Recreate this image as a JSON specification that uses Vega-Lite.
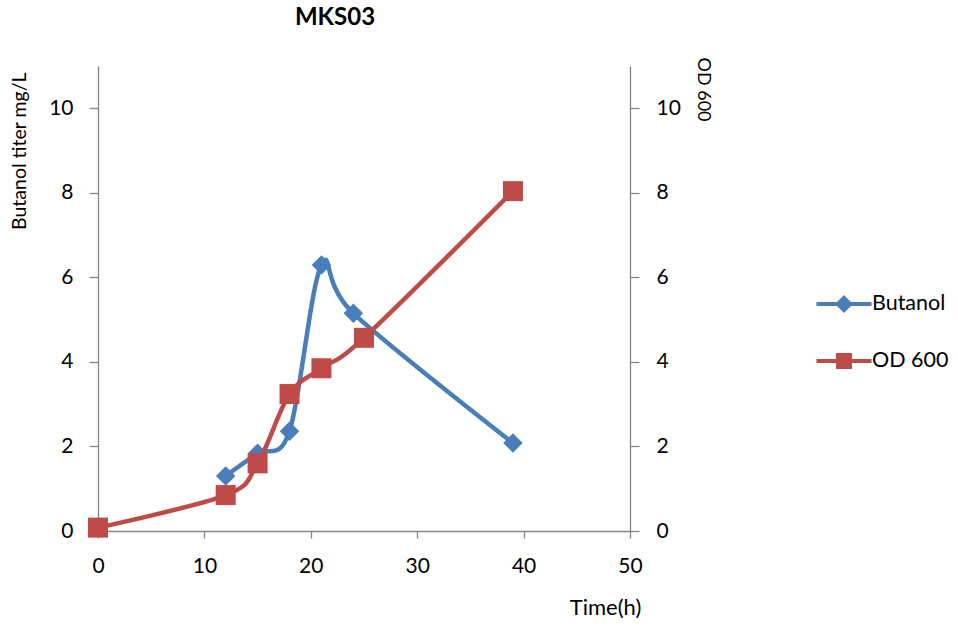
{
  "$schema": "https://vega.github.io/schema/vega-lite/v6.json",
  "width": 532,
  "height": 465,
  "autosize": {"type": "none"},
  "padding": {"left": 98, "top": 66, "right": 328, "bottom": 99},
  "background": "white",
  "config": {
    "view": {"stroke": null},
    "font": "Lato",
    "axis": {"grid": false, "domainColor": "#868686", "tickColor": "#868686", "labelColor": "black", "titleColor": "black", "labelFont": "Lato", "titleFont": "Lato", "titleFontWeight": "normal", "domainWidth": 1.3, "tickWidth": 1.3, "labelFlush": false}
  },
  "title": {"text": "MKS03", "fontSize": 24, "font": "Lato", "fontWeight": "bold", "anchor": "middle", "dx": -29, "baseline": "alphabetic", "offset": 8, "color": "black"},
  "data": {
    "values": [
      {"time": 12, "value": 1.3, "series": "Butanol"},
      {"time": 15, "value": 1.84, "series": "Butanol"},
      {"time": 18, "value": 2.36, "series": "Butanol"},
      {"time": 21, "value": 6.29, "series": "Butanol"},
      {"time": 24, "value": 5.15, "series": "Butanol"},
      {"time": 39, "value": 2.08, "series": "Butanol"},
      {"time": 0, "value": 0.08, "series": "OD 600"},
      {"time": 12, "value": 0.85, "series": "OD 600"},
      {"time": 15, "value": 1.6, "series": "OD 600"},
      {"time": 18, "value": 3.24, "series": "OD 600"},
      {"time": 21, "value": 3.85, "series": "OD 600"},
      {"time": 25, "value": 4.57, "series": "OD 600"},
      {"time": 39, "value": 8.04, "series": "OD 600"}
    ]
  },
  "encoding": {
    "x": {
      "field": "time", "type": "quantitative",
      "scale": {"domain": [0, 50], "nice": false},
      "axis": {"values": [0, 10, 20, 30, 40, 50], "tickSize": 7, "labelPadding": 17, "labelFontSize": 21, "labelBaseline": "top",
        "title": "Time(h)", "titleFontSize": 22, "titleAnchor": "start", "titleAlign": "center", "titleX": 507, "titleY": 66, "titleBaseline": "top"}
    },
    "color": {
      "field": "series", "type": "nominal",
      "scale": {"domain": ["Butanol", "OD 600"], "range": ["#4A7EBB", "#BE4B48"]},
      "legend": {
        "title": null, "orient": "none", "legendX": 734, "legendY": 226, "padding": 0,
        "symbolSize": 400, "symbolStrokeWidth": 4, "rowPadding": 28,
        "labelFontSize": 21.5, "labelFont": "Lato", "labelColor": "black", "labelOffset": 16,
        "encode": {
          "symbols": {
            "update": {
              "shape": {"signal": "datum.value === 'Butanol' ? 'M-2.75,0L2.75,0M0,-0.62L0.62,0L0,0.62L-0.62,0Z' : 'M-2.75,0L2.75,0M-0.6,-0.6L0.6,-0.6L0.6,0.6L-0.6,0.6Z'"},
              "fill": {"signal": "datum.value === 'Butanol' ? '#4A7EBB' : '#BE4B48'"},
              "stroke": {"signal": "datum.value === 'Butanol' ? '#4A7EBB' : '#BE4B48'"},
              "strokeWidth": {"value": 4},
              "opacity": {"value": 1},
              "fillOpacity": {"value": 1}
            }
          }
        }
      }
    }
  },
  "layer": [
    {
      "transform": [{"filter": "datum.series === 'Butanol'"}],
      "encoding": {
        "y": {
          "field": "value", "type": "quantitative",
          "scale": {"domain": [0, 11], "nice": false},
          "axis": {"orient": "left", "values": [0, 2, 4, 6, 8, 10], "tickSize": 9, "labelPadding": 16, "labelFontSize": 21,
            "title": "Butanol titer mg/L", "titleFontSize": 19.5, "titleAngle": 270, "titleAnchor": "end", "titleAlign": "right", "titleBaseline": "alphabetic", "titleX": -73, "titleY": 6}
        }
      },
      "layer": [
        {"mark": {"type": "line", "interpolate": "cardinal", "strokeWidth": 4.5}},
        {"mark": {"type": "point", "shape": "diamond", "filled": true, "size": 380, "opacity": 1}}
      ]
    },
    {
      "transform": [{"filter": "datum.series === 'OD 600'"}],
      "encoding": {
        "y": {
          "field": "value", "type": "quantitative",
          "scale": {"domain": [0, 11], "nice": false},
          "axis": {"orient": "right", "values": [0, 2, 4, 6, 8, 10], "tickSize": 9, "labelPadding": 17, "labelFontSize": 21,
            "title": "OD 600", "titleFontSize": 18, "titleAngle": 90, "titleAnchor": "start", "titleAlign": "left", "titleBaseline": "alphabetic", "titleX": 67, "titleY": -9}
        }
      },
      "layer": [
        {"mark": {"type": "line", "interpolate": "cardinal", "strokeWidth": 4.5}},
        {"mark": {"type": "point", "shape": "square", "filled": true, "size": 400, "opacity": 1}}
      ]
    }
  ],
  "resolve": {"scale": {"y": "independent"}}
}
